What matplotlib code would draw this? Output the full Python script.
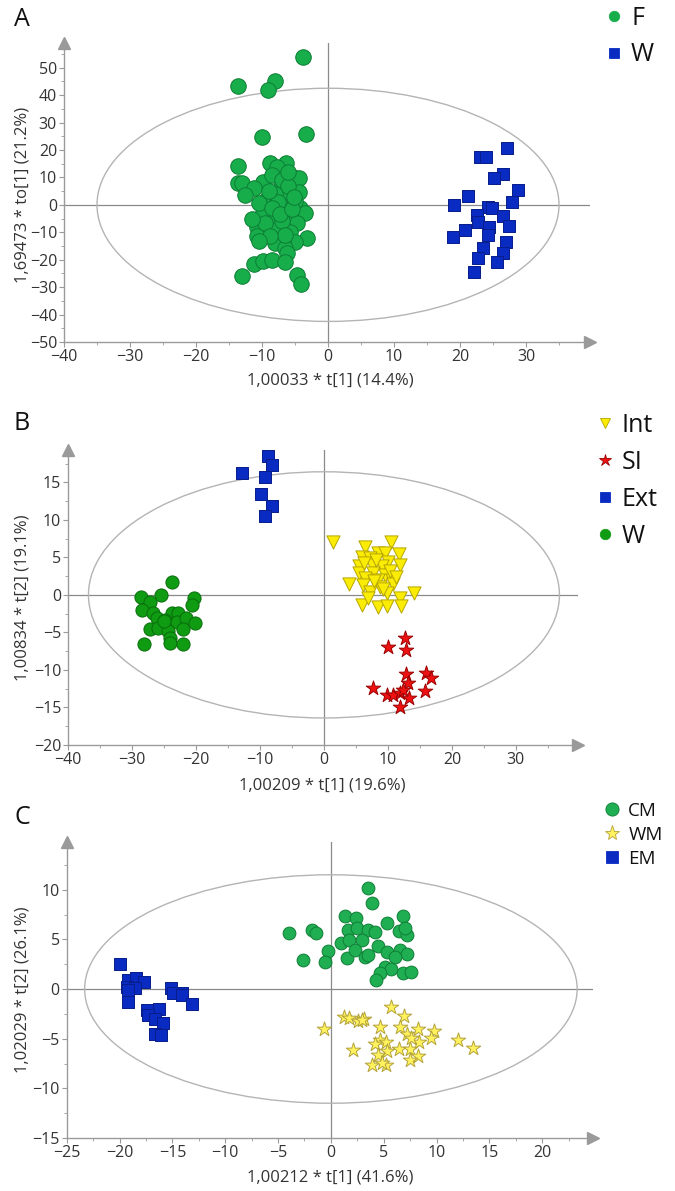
import matplotlib
matplotlib.use("Agg")
import matplotlib.pyplot as plt
from matplotlib.patches import Ellipse
from matplotlib.lines import Line2D
from matplotlib.ticker import MultipleLocator

plt.rcParams['font.family'] = ['Open Sans', 'DejaVu Sans']

# ---- panel A: F vs W
A_F_x = [-3.8, -13.6, -8, -9.1, -10, -3.3, -13.6, -8.8, -6.4, -7.7, -5.3, -4.4, -13.6, -13, -9.8,
         -11.2, -7.1, -4.4, -12.6, -6.8, -9.4, -9.2, -6.2, -4.2, -3.5, -6.8, -10, -8.3, -5.8, -4.7,
         -10.8, -9.2, -7.7, -5.8, -10.8, -3.2, -5, -6.8, -8, -6.5, -6.2, -11.2, -9.8, -8.5, -6.5,
         -13, -4.7, -4.1, -8.5, -7, -6, -8, -7.5, -5, -10.5, -8.5, -7, -9.5, -6.5, -8.8, -7.2, -9,
         -5.5, -11.5, -5.2, -6, -10.5]
A_F_y = [54, 43.4, 45, 42, 24.8, 25.9, 14.2, 15.3, 15.3, 13.9, 10.2, 9.7, 8, 8, 8.2,
         6.2, 6.6, 4.8, 3.6, 2.9, 1.8, -3, -0.7, -1.1, -3, -3, -3.6, -6.2, -5.5, -6.6,
         -8, -9, -9, -9.8, -11.3, -12, -13.5, -13.5, -13.9, -15.7, -17.5, -21.5, -20.4, -20, -20.8,
         -25.9, -25.5, -28.8, 11, 9, 7, 4, 1, 1.5, 0.5, -1, -6, -6.5, -11, -11.5, -3.5, 5,
         -1.5, -5, 3, 12, -13]
A_W_x = [27.1, 23, 24, 26.5, 25.2, 28.8, 21.2, 27.9, 19.1, 24.2, 24.8, 22.6, 26.5, 22.7, 24.4,
         27.4, 20.8, 18.9, 24.2, 27, 23.5, 26.5, 22.7, 25.6, 22.1]
A_W_y = [20.8, 17.5, 17.5, 11.3, 9.9, 5.5, 3.3, 1.1, 0, -0.7, -1.1, -3.6, -4, -6.2, -8,
         -7.7, -9.1, -11.7, -11, -13.5, -15.7, -17.5, -19.3, -20.8, -24.5]

# ---- panel B: Int, SI, Ext, W
B_int_x = [1.4, 10.5, 6.4, 8.5, 9.5, 11.8, 5.9, 7.2, 10, 11.9, 5.5, 7.5, 9, 5.5, 7.7, 9.5, 6.4,
           8.5, 10.6, 3.9, 6.1, 8.8, 10.8, 7.2, 9.8, 14.1, 11.9, 5.9, 8.5, 9.9, 12, 6.9, 8.2,
           6.2, 9.2, 10.3, 7.8, 11.2]
B_int_y = [7.1, 7, 6.4, 5.6, 5.6, 5.4, 5.1, 4.9, 4.4, 4, 3.8, 4, 3.8, 2.9, 2.9, 2.7, 2.2,
           2, 2, 1.5, 1.3, 1.1, 1.5, 0.4, 0.3, 0.3, -0.4, -1.3, -1.6, -1.5, -1.5, -0.4, 4.7,
           4.2, 0.8, 3.2, 1.8, 2.4]
B_si_x = [12.7, 10, 12.8, 12.8, 15.9, 16.8, 13.1, 7.7, 15.8, 9.9, 10.8, 11.9, 12.4, 13.3, 11.9]
B_si_y = [-5.8, -6.9, -7.3, -10.6, -10.4, -11.1, -11.8, -12.4, -12.8, -13.3, -13.3, -13.1, -12.7,
          -13.8, -15]
B_ext_x = [-12.8, -8.7, -8.1, -9.2, -9.8, -8.1, -9.2]
B_ext_y = [16.3, 18.5, 17.3, 15.7, 13.5, 11.9, 10.5]
B_w_x = [-23.7, -28.6, -25.4, -27.2, -20.3, -20.7, -28.5, -26.7, -23.8, -22.8, -26.1, -24.8, -23,
         -21.5, -20.2, -27.2, -25.9, -24.3, -22, -24.1, -28.1, -24.1, -22.1, -25]
B_w_y = [1.7, -0.3, 0, -0.9, -0.4, -1.3, -2, -2.4, -2.4, -2.4, -3.1, -3.3, -3.6,
         -3.1, -3.8, -4.6, -4.4, -4.8, -4.6, -5.8, -6.5, -6.4, -6.5, -3.5]

# ---- panel C: CM, WM, EM
C_cm_x = [3.5, 3.9, 1.3, 2.4, 6.8, -1.8, -1.4, 5.3, 1.6, 2.5, 3.5, 4.2, 6.4, 7.2, 7, 1, 1.7,
          2.9, 4.5, -0.3, -2.6, -0.6, 1.5, 2.3, 3.2, 3.5, 5.3, 6.5, 7.2, 6.1, 5.1, 5.7, 4.6,
          6.8, 7.6, 4.3, -4]
C_cm_y = [10.2, 8.7, 7.3, 7.1, 7.3, 5.9, 5.6, 6.6, 5.9, 6.1, 5.9, 5.7, 5.8, 5.4, 6.1, 4.6, 4.9,
          4.9, 4.3, 3.8, 2.9, 2.7, 3.1, 3.9, 3.2, 3.4, 3.7, 3.9, 3.5, 3.2, 2.2, 2, 1.6,
          1.6, 1.7, 0.9, 5.6]
C_wm_x = [5.7, 6.9, 1.2, 1.7, 2.6, 3.1, 4.6, 6.5, 8.2, 9.8, 7.2, 9.5, 12, 13.4, 4.6, 5.2, 4.2,
          2.1, 6.4, 7.5, 8.3, 7.6, 5.3, 4.5, 8.2, 7.5, 3.9, 5.2, 4.8, -0.7, 2.9]
C_wm_y = [-1.8, -2.7, -2.8, -2.9, -3.2, -3, -3.8, -3.8, -4, -4.2, -4.5, -4.9, -5.1, -5.9, -5.1,
          -5.3, -5.5, -6.1, -6, -6, -5.3, -4.9, -6.2, -6.6, -6.7, -7.1, -7.7, -7.7, -7.4, -4,
          -3.1]
C_em_x = [-20, -19.2, -18.4, -17.7, -19.3, -18.5, -15.1, -14.1, -19.2, -14.9, -14.1, -19.2, -13.1,
          -17.4, -16.3, -17.3, -16.6, -15.9, -16.6, -16.1]
C_em_y = [2.5, 0.9, 1.1, 0.7, 0.2, 0.1, 0.1, -0.4, -0.1, -0.4, -0.6, -1.3, -1.5,
          -2.1, -2, -2.6, -3, -3.4, -4.5, -4.6]

W, H = 675, 1191
fig = plt.figure(figsize=(W / 100, H / 100), dpi=100)
TXT = '#333333'
AX = '#9a9a9a'


def rect(left, top, right, bottom):
    return [left / W, 1 - bottom / H, (right - left) / W, (bottom - top) / H]


def setup(ax, xlim, ylim, xmaj, xmin, ymaj, ymin, ell):
    ax.set_xlim(*xlim)
    ax.set_ylim(*ylim)
    for s in ['top', 'right']:
        ax.spines[s].set_visible(False)
    for s in ['left', 'bottom']:
        ax.spines[s].set_color(AX)
        ax.spines[s].set_linewidth(1.0)
    ax.xaxis.set_major_locator(MultipleLocator(xmaj))
    ax.xaxis.set_minor_locator(MultipleLocator(xmin))
    ax.yaxis.set_major_locator(MultipleLocator(ymaj))
    ax.yaxis.set_minor_locator(MultipleLocator(ymin))
    ax.tick_params(which='both', direction='out', color=AX, labelcolor=TXT, labelsize=11.5, pad=1.5)
    ax.tick_params(which='major', length=3.5)
    ax.tick_params(which='minor', length=2.5)
    ax.axhline(0, color='#8a8a8a', lw=0.9, zorder=1)
    ax.axvline(0, color='#8a8a8a', lw=0.9, zorder=1)
    ax.add_patch(Ellipse((0, 0), 2 * ell[0], 2 * ell[1], fill=False, ec='#b4b4b4', lw=1.0, zorder=1))
    ax.plot([1], [0], marker='>', ms=8, color=AX, transform=ax.transAxes, clip_on=False)
    ax.plot([0], [1], marker='^', ms=8, color=AX, transform=ax.transAxes, clip_on=False)
    ax.set_facecolor('none')


def legend(handles, labels, x, y, size, spacing, pad=0.2):
    fig.legend(handles, labels, loc='upper left', bbox_to_anchor=(x / W, 1 - y / H),
               frameon=False, fontsize=size, labelspacing=spacing, handletextpad=pad,
               handlelength=1.0, borderpad=0, borderaxespad=0, labelcolor='#111111')


def mk(marker, fc, ec, ms):
    return Line2D([], [], ls='', marker=marker, mfc=fc, mec=ec, ms=ms, mew=0.6)


green_a, green_a_e = '#17ad4b', '#0d7d34'
blue, blue_e = '#0a2bc2', '#061d8a'
green_b, green_b_e = '#0f9b12', '#0a6d0c'
yellow, yellow_e = '#fbec05', '#b5a500'
red, red_e = '#ee1111', '#9c0000'
star_y, star_y_e = '#fff25e', '#b4a33a'

# ---- A
axA = fig.add_axes(rect(64, 43, 590, 342))
setup(axA, (-40, 39.7), (-50, 59), 10, 5, 10, 5, (35, 42.5))
axA.scatter(A_F_x, A_F_y, s=125, marker='o', c=green_a, edgecolors=green_a_e, linewidths=0.7, zorder=3)
axA.scatter(A_W_x, A_W_y, s=75, marker='s', c=blue, edgecolors=blue_e, linewidths=0.7, zorder=3)
fig.text(330 / W, 1 - 380 / H, '1,00033 * t[1] (14.4%)', ha='center', va='center', fontsize=12, color=TXT)
fig.text(23 / W, 1 - 195 / H, '1,69473 * to[1] (21.2%)', ha='center', va='center', rotation=90,
         fontsize=12, color=TXT)
fig.text(14 / W, 1 - 19 / H, 'A', ha='left', va='center', fontsize=18, color='#111111')
legend([mk('o', green_a, green_a, 7.5), mk('s', blue, blue, 6.5)], ['F', 'W'], 601, 6, 18, 0.45)

# ---- B
axB = fig.add_axes(rect(68, 450, 578, 745))
setup(axB, (-40, 39.7), (-20, 19.3), 10, 5, 5, 2.5, (36.8, 16.4))
axB.scatter(B_w_x, B_w_y, s=90, marker='o', c=green_b, edgecolors=green_b_e, linewidths=0.7, zorder=3)
axB.scatter(B_ext_x, B_ext_y, s=75, marker='s', c=blue, edgecolors=blue_e, linewidths=0.7, zorder=3)
axB.scatter(B_int_x, B_int_y, s=90, marker='v', c=yellow, edgecolors=yellow_e, linewidths=0.7, zorder=3)
axB.scatter(B_si_x, B_si_y, s=120, marker='*', c=red, edgecolors=red_e, linewidths=0.7, zorder=3)
fig.text(322 / W, 1 - 785 / H, '1,00209 * t[1] (19.6%)', ha='center', va='center', fontsize=12, color=TXT)
fig.text(23 / W, 1 - 598 / H, '1,00834 * t[2] (19.1%)', ha='center', va='center', rotation=90,
         fontsize=12, color=TXT)
fig.text(14 / W, 1 - 423 / H, 'B', ha='left', va='center', fontsize=18, color='#111111')
legend([mk('v', yellow, yellow_e, 7.5), mk('*', red, red_e, 9), mk('s', blue, blue, 6.5),
        mk('o', green_b, green_b, 7.5)], ['Int', 'SI', 'Ext', 'W'], 592, 413, 18, 0.48)

# ---- C
axC = fig.add_axes(rect(66.7, 842, 593, 1138))
setup(axC, (-25, 24.8), (-15, 14.8), 5, 2.5, 5, 2.5, (23.3, 11.5))
axC.scatter(C_cm_x, C_cm_y, s=85, marker='o', c='#1fae52', edgecolors='#0f7e36', linewidths=0.7, zorder=3)
axC.scatter(C_wm_x, C_wm_y, s=120, marker='*', c=star_y, edgecolors=star_y_e, linewidths=0.7, zorder=3)
axC.scatter(C_em_x, C_em_y, s=70, marker='s', c=blue, edgecolors=blue_e, linewidths=0.7, zorder=3)
fig.text(330 / W, 1 - 1178 / H, '1,00212 * t[1] (41.6%)', ha='center', va='center', fontsize=12, color=TXT)
fig.text(23 / W, 1 - 990 / H, '1,02029 * t[2] (26.1%)', ha='center', va='center', rotation=90,
         fontsize=12, color=TXT)
fig.text(14 / W, 1 - 818 / H, 'C', ha='left', va='center', fontsize=18, color='#111111')
legend([mk('o', '#1fae52', '#0f7e36', 9.5), mk('*', star_y, star_y_e, 11), mk('s', blue, blue, 8)],
       ['CM', 'WM', 'EM'], 603, 802, 13.5, 0.31, 0.35)

fig.savefig('out.png', dpi=100)
